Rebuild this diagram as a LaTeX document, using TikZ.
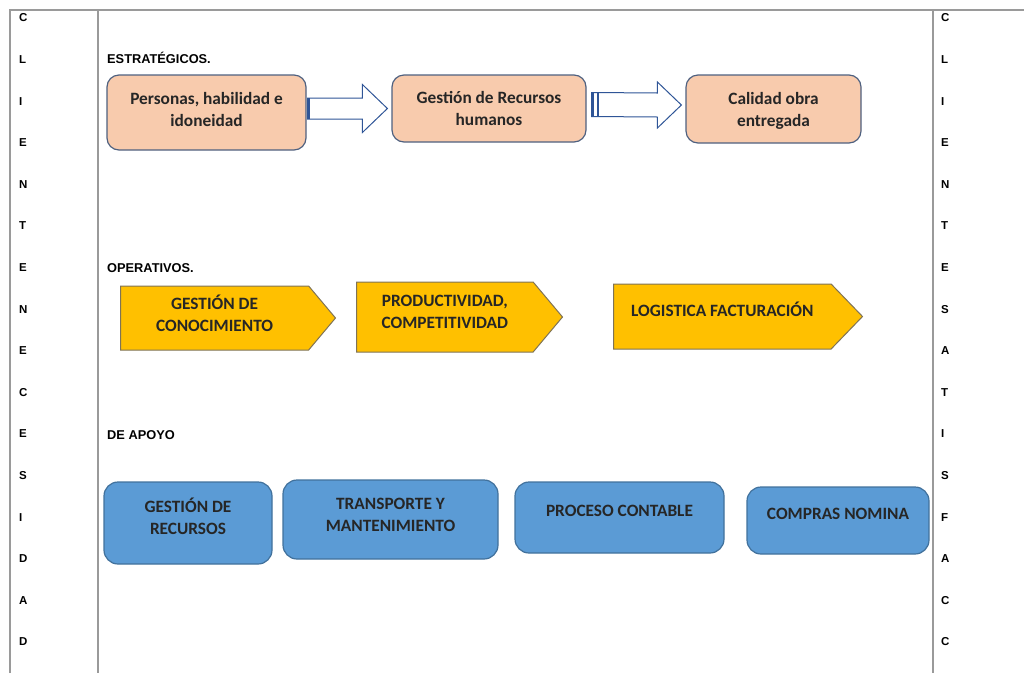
\documentclass[tikz,border=0pt]{standalone}
\usepackage{fontspec}
\setmainfont{Carlito}
\newfontfamily\arialfont{Liberation Sans}
\usetikzlibrary{shapes.symbols,calc}
\definecolor{estfill}{HTML}{F8CBAD}
\definecolor{estline}{HTML}{4F6180}
\definecolor{arrline}{HTML}{2F5597}
\definecolor{opfill}{HTML}{FFC000}
\definecolor{opline}{HTML}{7F7356}
\definecolor{apfill}{HTML}{5B9BD5}
\definecolor{apline}{HTML}{41719C}
\definecolor{tabline}{HTML}{9A9A9A}
\definecolor{boxtext}{HTML}{262626}
% text lifted above the centre of its box
\newcommand{\txt}[2][0pt]{\raisebox{\dimexpr #1-3.6pt\relax}[0pt][0pt]{\begin{tabular}{@{}c@{}}#2\end{tabular}}}

\begin{document}
\begin{tikzpicture}[x=1pt, y=-1pt,
    boxfont/.style={font=\bfseries\fontsize{17.3}{22}\selectfont, text=boxtext},
    estbox/.style={rectangle, rounded corners=12pt, draw=estline, fill=estfill, line width=1.2pt, boxfont},
    opbox/.style={signal, signal to=east, draw=opline, fill=opfill, line width=1pt, inner sep=0pt, boxfont},
    apbox/.style={rectangle, rounded corners=14pt, draw=apline, fill=apfill, line width=1.2pt, boxfont},
    sect/.style={anchor=west, inner sep=1pt, font=\arialfont\bfseries\fontsize{12.8}{14}\selectfont},
    letra/.style={anchor=west, inner sep=1pt, font=\arialfont\bfseries\fontsize{11.5}{14}\selectfont},
    barrow/.style={draw=arrline, fill=white, line width=1pt}]
    \useasboundingbox (0,0) rectangle (1024,673);

    % table
    \draw[tabline, line width=1.3pt] (10,673) -- (10,10) -- (1024,10);
    \draw[tabline, line width=1.3pt] (98,10) -- (98,673);
    \draw[tabline, line width=1.3pt] (933,10) -- (933,673);
    \foreach \l [count=\i from 0] in {C,L,I,E,N,T,E,N,E,C,E,S,I,D,A,D}
        \node (izq\i) [letra] at (18,{18+41.6*\i}) {\l};
    \foreach \l [count=\i from 0] in {C,L,I,E,N,T,E,S,A,T,I,S,F,A,C,C}
        \node (der\i) [letra] at (940,{18+41.6*\i}) {\l};

    % estrategicos
    \node (s1) [sect] at (106,58) {ESTRATÉGICOS.};
    \node (p1) [estbox, minimum width=199, minimum height=75] at (206.5,112.5) {\txt[1pt]{Personas, habilidad e\\idoneidad}};
    \node (p2) [estbox, minimum width=194, minimum height=67] at (489,108.5) {\txt[-2.5pt]{Gestión de Recursos\\humanos}};
    \node (p3) [estbox, minimum width=175, minimum height=68] at (773.5,109) {\txt[-2.5pt]{Calidad obra\\entregada}};
    \draw[barrow] ($(p1.east |- p2.west)+(1,-10.5)$) -- ($(p2.west)+(-29,-10.5)$) -- ($(p2.west)+(-29,-24)$)
        -- ($(p2.west)+(-4,0)$) -- ($(p2.west)+(-29,24)$) -- ($(p2.west)+(-29,10.5)$)
        -- ($(p1.east |- p2.west)+(1,10.5)$) -- cycle;
    \draw[arrline, line width=2.5pt] ($(p1.east |- p2.west)+(2,-10.5)$) -- ($(p1.east |- p2.west)+(2,10.5)$);
    \draw[barrow] ($(p2.east)+(5,-16)$) -- ($(p3.west)+(-28,-16)$) -- ($(p3.west)+(-28,-27)$)
        -- ($(p3.west)+(-4,-4)$) -- ($(p3.west)+(-28,19)$) -- ($(p3.west)+(-28,8)$)
        -- ($(p2.east)+(5,8)$) -- cycle;
    \draw[arrline, line width=2pt] ($(p2.east)+(6,-16)$) -- ($(p2.east)+(6,8)$);
    \draw[arrline, line width=2pt] ($(p2.east)+(11,-16)$) -- ($(p2.east)+(11,8)$);

    % operativos
    \node (s2) [sect] at (106,268) {OPERATIVOS.};
    \node (o1) [opbox, minimum width=215, minimum height=64, signal pointer angle=100, anchor=west] at (120,318) {\txt[1.5pt]{GESTIÓN DE\\CONOCIMIENTO}};
    \node (o2) [opbox, minimum width=206, minimum height=70, signal pointer angle=100, anchor=west] at (356,317) {\txt[3.5pt]{PRODUCTIVIDAD,\\COMPETITIVIDAD}};
    \node (o3) [opbox, minimum width=249, minimum height=65, signal pointer angle=92, anchor=west] at (613,316.5) {\txt[3.5pt]{LOGISTICA FACTURACIÓN}};

    % de apoyo
    \node (s3) [sect] at (106,435) {DE APOYO};
    \node (a1) [apbox, minimum width=168, minimum height=82] at (188,523) {\txt[3.5pt]{GESTIÓN DE\\RECURSOS}};
    \node (a2) [apbox, minimum width=215, minimum height=79] at (390.5,519.5) {\txt[3pt]{TRANSPORTE Y\\MANTENIMIENTO}};
    \node (a3) [apbox, minimum width=209, minimum height=71] at (619.5,517.5) {\txt[5pt]{PROCESO CONTABLE}};
    \node (a4) [apbox, minimum width=182, minimum height=67] at (838,520.5) {\txt[5pt]{COMPRAS NOMINA}};
\end{tikzpicture}
\end{document}
